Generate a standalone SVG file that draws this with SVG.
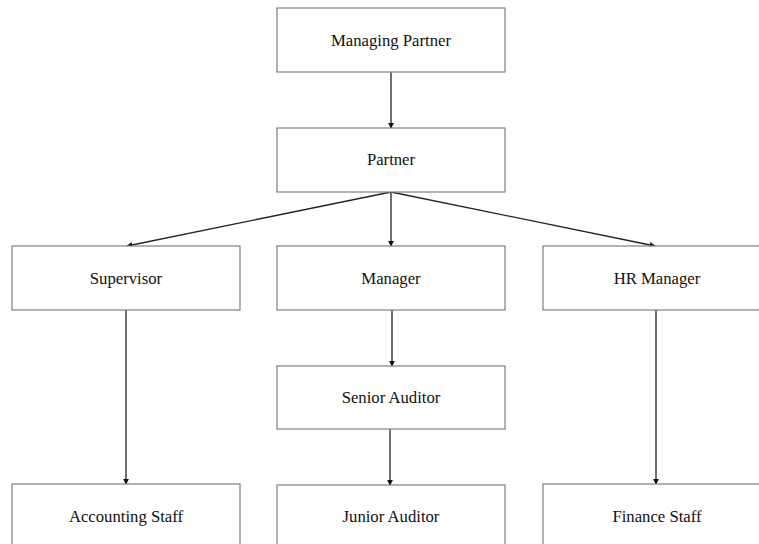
<svg xmlns="http://www.w3.org/2000/svg" width="759" height="544" viewBox="0 0 759 544">
<style>
.box{fill:#fff;stroke:#7f7f7f;stroke-width:1.2}
.lbl{font-family:"Liberation Serif","Times New Roman",serif;font-size:16.7px;fill:#111;text-anchor:middle}
.edge{stroke:#222;stroke-width:1.3;fill:none;marker-end:url(#ah)}
</style>
<defs>
<marker id="ah" viewBox="0 0 8 8" refX="7" refY="4" markerWidth="6" markerHeight="6" markerUnits="userSpaceOnUse" orient="auto">
<path d="M0,0 L8,4 L0,8 z" fill="#111"/>
</marker>
</defs>
<rect width="759" height="544" fill="#fff"/>
<g id="connectors">
<line class="edge" x1="391" y1="72" x2="391" y2="128"/>
<line class="edge" x1="391" y1="192" x2="127" y2="246"/>
<line class="edge" x1="391" y1="192" x2="391" y2="246"/>
<line class="edge" x1="391" y1="192" x2="655" y2="246"/>
<line class="edge" x1="126" y1="310" x2="126" y2="484"/>
<line class="edge" x1="392" y1="310" x2="392" y2="366"/>
<line class="edge" x1="390" y1="429" x2="390" y2="485"/>
<line class="edge" x1="656" y1="310" x2="656" y2="484"/>
</g>
<g id="managing-partner"><rect class="box" x="277" y="8" width="228" height="64"/><text class="lbl" x="391" y="46">Managing Partner</text></g>
<g id="partner"><rect class="box" x="277" y="128" width="228" height="64"/><text class="lbl" x="391" y="165">Partner</text></g>
<g id="supervisor"><rect class="box" x="12" y="246" width="228" height="64"/><text class="lbl" x="126" y="284">Supervisor</text></g>
<g id="manager"><rect class="box" x="277" y="246" width="228" height="64"/><text class="lbl" x="391" y="284">Manager</text></g>
<g id="hr-manager"><rect class="box" x="543" y="246" width="228" height="64"/><text class="lbl" x="657" y="284">HR Manager</text></g>
<g id="senior-auditor"><rect class="box" x="277" y="366" width="228" height="63"/><text class="lbl" x="391" y="403">Senior Auditor</text></g>
<g id="accounting-staff"><rect class="box" x="12" y="484" width="228" height="70"/><text class="lbl" x="126" y="522">Accounting Staff</text></g>
<g id="junior-auditor"><rect class="box" x="277" y="485" width="228" height="70"/><text class="lbl" x="391" y="522">Junior Auditor</text></g>
<g id="finance-staff"><rect class="box" x="543" y="484" width="228" height="70"/><text class="lbl" x="657" y="522">Finance Staff</text></g>
</svg>
